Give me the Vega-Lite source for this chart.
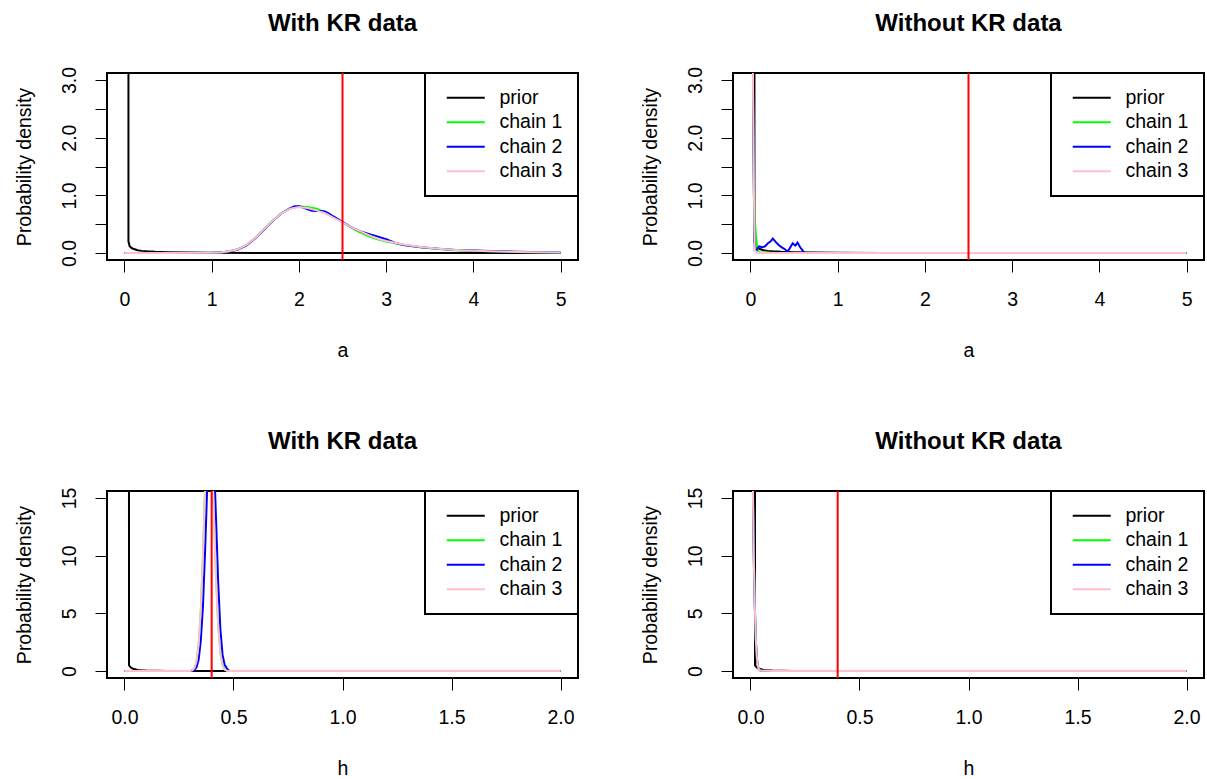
{
  "$schema": "https://vega.github.io/schema/vega-lite/v6.json",
  "background": "white",
  "padding": {"left": 13, "top": 11, "right": 0, "bottom": 0},
  "config": {
    "font": "Liberation Sans",
    "view": {"stroke": "black", "strokeWidth": 2},
    "axis": {"domain": false, "grid": false, "ticks": true, "tickColor": "black", "tickSize": 12, "tickWidth": 1, "labelFont": "Liberation Sans", "labelFontSize": 19.5, "labelColor": "black", "titleFont": "Liberation Sans", "titleFontSize": 19.5, "titleFontWeight": "normal", "titleColor": "black"},
    "axisX": {"labelPadding": 18, "titlePadding": 33, "labelAngle": 0, "labelBaseline": "top"},
    "axisY": {"labelPadding": 35, "titlePadding": 25},
    "title": {"fontSize": 24, "fontWeight": "bold", "font": "Liberation Sans", "color": "black", "anchor": "middle", "baseline": "alphabetic"},
    "legend": {"orient": "top-right", "offset": 0, "fillColor": "white", "strokeColor": "black", "strokeWidth": 2, "padding": 15, "symbolType": "M-0.5,0L5.833,0", "symbolSize": 144, "symbolStrokeWidth": 2, "labelFontSize": 19.5, "labelFont": "Liberation Sans", "labelColor": "black", "labelOffset": 40, "rowPadding": 3.5}
  },
  "datasets": {
    "prior_a": [
      {"series":"prior","x":0.045,"y":40},{"series":"prior","x":0.046,"y":0.2},{"series":"prior","x":0.06,"y":0.12},{"series":"prior","x":0.08,"y":0.09},{"series":"prior","x":0.1,"y":0.075},{"series":"prior","x":0.15,"y":0.05},{"series":"prior","x":0.2,"y":0.038},{"series":"prior","x":0.26,"y":0.03},{"series":"prior","x":0.35,"y":0.022},{"series":"prior","x":0.5,"y":0.015},{"series":"prior","x":0.75,"y":0.009},{"series":"prior","x":1,"y":0.005},{"series":"prior","x":1.5,"y":0.003},{"series":"prior","x":2,"y":0.0015},{"series":"prior","x":3,"y":0.0008},{"series":"prior","x":4,"y":0.0004},{"series":"prior","x":5,"y":0}
    ],
    "prior_h": [
      {"series":"prior","x":0.02,"y":80},{"series":"prior","x":0.021,"y":0.5},{"series":"prior","x":0.025,"y":0.4},{"series":"prior","x":0.03,"y":0.3},{"series":"prior","x":0.04,"y":0.2},{"series":"prior","x":0.06,"y":0.1},{"series":"prior","x":0.08,"y":0.06},{"series":"prior","x":0.1,"y":0.04},{"series":"prior","x":0.15,"y":0.02},{"series":"prior","x":0.2,"y":0.012},{"series":"prior","x":0.3,"y":0.006},{"series":"prior","x":0.5,"y":0.003},{"series":"prior","x":1,"y":0.001},{"series":"prior","x":2,"y":0}
    ],
    "a_kr": [
      {"series":"chain 1","x":0,"y":0},{"series":"chain 1","x":0.5,"y":0.001},{"series":"chain 1","x":1,"y":0.004},{"series":"chain 1","x":1.1,"y":0.01},{"series":"chain 1","x":1.2,"y":0.03},{"series":"chain 1","x":1.3,"y":0.065},{"series":"chain 1","x":1.4,"y":0.14},{"series":"chain 1","x":1.5,"y":0.26},{"series":"chain 1","x":1.6,"y":0.41},{"series":"chain 1","x":1.7,"y":0.56},{"series":"chain 1","x":1.8,"y":0.69},{"series":"chain 1","x":1.9,"y":0.77},{"series":"chain 1","x":2,"y":0.81},{"series":"chain 1","x":2.1,"y":0.8},{"series":"chain 1","x":2.2,"y":0.77},{"series":"chain 1","x":2.3,"y":0.71},{"series":"chain 1","x":2.4,"y":0.63},{"series":"chain 1","x":2.5,"y":0.53},{"series":"chain 1","x":2.6,"y":0.44},{"series":"chain 1","x":2.7,"y":0.36},{"series":"chain 1","x":2.8,"y":0.29},{"series":"chain 1","x":2.9,"y":0.24},{"series":"chain 1","x":3,"y":0.2},{"series":"chain 1","x":3.2,"y":0.14},{"series":"chain 1","x":3.4,"y":0.1},{"series":"chain 1","x":3.6,"y":0.07},{"series":"chain 1","x":3.8,"y":0.05},{"series":"chain 1","x":4,"y":0.04},{"series":"chain 1","x":4.5,"y":0.02},{"series":"chain 1","x":5,"y":0.012},
      {"series":"chain 2","x":0,"y":0},{"series":"chain 2","x":0.5,"y":0.001},{"series":"chain 2","x":1,"y":0.004},{"series":"chain 2","x":1.1,"y":0.01},{"series":"chain 2","x":1.2,"y":0.028},{"series":"chain 2","x":1.3,"y":0.062},{"series":"chain 2","x":1.4,"y":0.135},{"series":"chain 2","x":1.5,"y":0.255},{"series":"chain 2","x":1.6,"y":0.405},{"series":"chain 2","x":1.7,"y":0.555},{"series":"chain 2","x":1.8,"y":0.69},{"series":"chain 2","x":1.9,"y":0.78},{"series":"chain 2","x":1.95,"y":0.81},{"series":"chain 2","x":2,"y":0.81},{"series":"chain 2","x":2.05,"y":0.79},{"series":"chain 2","x":2.1,"y":0.76},{"series":"chain 2","x":2.15,"y":0.735},{"series":"chain 2","x":2.2,"y":0.73},{"series":"chain 2","x":2.25,"y":0.73},{"series":"chain 2","x":2.3,"y":0.72},{"series":"chain 2","x":2.35,"y":0.68},{"series":"chain 2","x":2.4,"y":0.63},{"series":"chain 2","x":2.5,"y":0.54},{"series":"chain 2","x":2.6,"y":0.45},{"series":"chain 2","x":2.7,"y":0.38},{"series":"chain 2","x":2.8,"y":0.33},{"series":"chain 2","x":2.9,"y":0.29},{"series":"chain 2","x":3,"y":0.24},{"series":"chain 2","x":3.1,"y":0.18},{"series":"chain 2","x":3.2,"y":0.14},{"series":"chain 2","x":3.4,"y":0.1},{"series":"chain 2","x":3.6,"y":0.075},{"series":"chain 2","x":3.8,"y":0.055},{"series":"chain 2","x":4,"y":0.045},{"series":"chain 2","x":4.5,"y":0.025},{"series":"chain 2","x":5,"y":0.01},
      {"series":"chain 3","x":0,"y":0},{"series":"chain 3","x":0.5,"y":0.001},{"series":"chain 3","x":1,"y":0.004},{"series":"chain 3","x":1.1,"y":0.01},{"series":"chain 3","x":1.2,"y":0.03},{"series":"chain 3","x":1.3,"y":0.065},{"series":"chain 3","x":1.4,"y":0.14},{"series":"chain 3","x":1.5,"y":0.26},{"series":"chain 3","x":1.6,"y":0.41},{"series":"chain 3","x":1.7,"y":0.56},{"series":"chain 3","x":1.8,"y":0.69},{"series":"chain 3","x":1.9,"y":0.77},{"series":"chain 3","x":2,"y":0.8},{"series":"chain 3","x":2.1,"y":0.78},{"series":"chain 3","x":2.2,"y":0.74},{"series":"chain 3","x":2.3,"y":0.69},{"series":"chain 3","x":2.4,"y":0.61},{"series":"chain 3","x":2.5,"y":0.53},{"series":"chain 3","x":2.6,"y":0.45},{"series":"chain 3","x":2.7,"y":0.38},{"series":"chain 3","x":2.8,"y":0.31},{"series":"chain 3","x":2.9,"y":0.25},{"series":"chain 3","x":3,"y":0.21},{"series":"chain 3","x":3.2,"y":0.15},{"series":"chain 3","x":3.4,"y":0.105},{"series":"chain 3","x":3.6,"y":0.075},{"series":"chain 3","x":3.8,"y":0.055},{"series":"chain 3","x":4,"y":0.04},{"series":"chain 3","x":4.5,"y":0.02},{"series":"chain 3","x":5,"y":0.01}
    ],
    "a_nokr": [
      {"series":"chain 1","x":0,"y":25},{"series":"chain 1","x":0.015,"y":11},{"series":"chain 1","x":0.03,"y":2.6},{"series":"chain 1","x":0.04,"y":1.0},{"series":"chain 1","x":0.05,"y":0.62},{"series":"chain 1","x":0.06,"y":0.35},{"series":"chain 1","x":0.075,"y":0.12},{"series":"chain 1","x":0.09,"y":0.02},{"series":"chain 1","x":0.1,"y":0.01},{"series":"chain 1","x":0.3,"y":0.003},{"series":"chain 1","x":1,"y":0.001},{"series":"chain 1","x":5,"y":0},
      {"series":"chain 2","x":0,"y":25},{"series":"chain 2","x":0.015,"y":10},{"series":"chain 2","x":0.03,"y":2.5},{"series":"chain 2","x":0.04,"y":1.0},{"series":"chain 2","x":0.045,"y":0.3},{"series":"chain 2","x":0.05,"y":0.05},{"series":"chain 2","x":0.065,"y":0.04},{"series":"chain 2","x":0.08,"y":0.08},{"series":"chain 2","x":0.1,"y":0.115},{"series":"chain 2","x":0.14,"y":0.1},{"series":"chain 2","x":0.17,"y":0.12},{"series":"chain 2","x":0.2,"y":0.17},{"series":"chain 2","x":0.23,"y":0.2},{"series":"chain 2","x":0.256,"y":0.25},{"series":"chain 2","x":0.275,"y":0.22},{"series":"chain 2","x":0.294,"y":0.185},{"series":"chain 2","x":0.33,"y":0.13},{"series":"chain 2","x":0.36,"y":0.1},{"series":"chain 2","x":0.39,"y":0.07},{"series":"chain 2","x":0.427,"y":0.03},{"series":"chain 2","x":0.45,"y":0.08},{"series":"chain 2","x":0.484,"y":0.17},{"series":"chain 2","x":0.5,"y":0.15},{"series":"chain 2","x":0.515,"y":0.13},{"series":"chain 2","x":0.54,"y":0.18},{"series":"chain 2","x":0.57,"y":0.1},{"series":"chain 2","x":0.606,"y":0.03},{"series":"chain 2","x":0.62,"y":0.005},{"series":"chain 2","x":1,"y":0.001},{"series":"chain 2","x":5,"y":0},
      {"series":"chain 3","x":0,"y":30},{"series":"chain 3","x":0.015,"y":12},{"series":"chain 3","x":0.03,"y":2.8},{"series":"chain 3","x":0.04,"y":1.1},{"series":"chain 3","x":0.045,"y":0.4},{"series":"chain 3","x":0.05,"y":0.05},{"series":"chain 3","x":0.07,"y":0.01},{"series":"chain 3","x":0.2,"y":0.003},{"series":"chain 3","x":1,"y":0.001},{"series":"chain 3","x":5,"y":0}
    ],
    "h_kr": [
      {"series":"chain 1","x":0,"y":0},{"series":"chain 1","x":0.25,"y":0},{"series":"chain 1","x":0.3,"y":0.01},{"series":"chain 1","x":0.31,"y":0.05},{"series":"chain 1","x":0.32,"y":0.21},{"series":"chain 1","x":0.33,"y":0.74},{"series":"chain 1","x":0.34,"y":2.15},{"series":"chain 1","x":0.35,"y":5.1},{"series":"chain 1","x":0.36,"y":9.9},{"series":"chain 1","x":0.37,"y":15.8},{"series":"chain 1","x":0.38,"y":20.6},{"series":"chain 1","x":0.39,"y":22},{"series":"chain 1","x":0.4,"y":19.4},{"series":"chain 1","x":0.41,"y":14},{"series":"chain 1","x":0.42,"y":8.3},{"series":"chain 1","x":0.43,"y":4.05},{"series":"chain 1","x":0.44,"y":1.6},{"series":"chain 1","x":0.45,"y":0.53},{"series":"chain 1","x":0.46,"y":0.14},{"series":"chain 1","x":0.47,"y":0.03},{"series":"chain 1","x":0.48,"y":0},{"series":"chain 1","x":1,"y":0},{"series":"chain 1","x":2,"y":0},
      {"series":"chain 2","x":0,"y":0},{"series":"chain 2","x":0.25,"y":0},{"series":"chain 2","x":0.3,"y":0},{"series":"chain 2","x":0.31,"y":0.02},{"series":"chain 2","x":0.32,"y":0.08},{"series":"chain 2","x":0.33,"y":0.3},{"series":"chain 2","x":0.34,"y":0.96},{"series":"chain 2","x":0.35,"y":2.6},{"series":"chain 2","x":0.36,"y":5.6},{"series":"chain 2","x":0.37,"y":10.5},{"series":"chain 2","x":0.38,"y":16.2},{"series":"chain 2","x":0.39,"y":20.6},{"series":"chain 2","x":0.4,"y":21.7},{"series":"chain 2","x":0.41,"y":18.7},{"series":"chain 2","x":0.42,"y":13.2},{"series":"chain 2","x":0.43,"y":7.6},{"series":"chain 2","x":0.44,"y":3.6},{"series":"chain 2","x":0.45,"y":1.4},{"series":"chain 2","x":0.46,"y":0.5},{"series":"chain 2","x":0.465,"y":0.4},{"series":"chain 2","x":0.47,"y":0.2},{"series":"chain 2","x":0.48,"y":0.02},{"series":"chain 2","x":0.49,"y":0},{"series":"chain 2","x":1,"y":0},{"series":"chain 2","x":2,"y":0},
      {"series":"chain 3","x":0,"y":0},{"series":"chain 3","x":0.25,"y":0},{"series":"chain 3","x":0.3,"y":0.01},{"series":"chain 3","x":0.31,"y":0.054},{"series":"chain 3","x":0.32,"y":0.23},{"series":"chain 3","x":0.33,"y":0.79},{"series":"chain 3","x":0.34,"y":2.25},{"series":"chain 3","x":0.35,"y":5.27},{"series":"chain 3","x":0.36,"y":10.1},{"series":"chain 3","x":0.37,"y":16},{"series":"chain 3","x":0.38,"y":20.7},{"series":"chain 3","x":0.39,"y":21.9},{"series":"chain 3","x":0.4,"y":19.1},{"series":"chain 3","x":0.41,"y":13.6},{"series":"chain 3","x":0.42,"y":8},{"series":"chain 3","x":0.43,"y":3.86},{"series":"chain 3","x":0.44,"y":1.52},{"series":"chain 3","x":0.45,"y":0.49},{"series":"chain 3","x":0.46,"y":0.13},{"series":"chain 3","x":0.47,"y":0.03},{"series":"chain 3","x":0.48,"y":0},{"series":"chain 3","x":1,"y":0},{"series":"chain 3","x":2,"y":0}
    ],
    "h_nokr": [
      {"series":"chain 1","x":0,"y":60},{"series":"chain 1","x":0.008,"y":26},{"series":"chain 1","x":0.012,"y":15},{"series":"chain 1","x":0.016,"y":9.5},{"series":"chain 1","x":0.02,"y":5.8},{"series":"chain 1","x":0.025,"y":2.6},{"series":"chain 1","x":0.03,"y":1.1},{"series":"chain 1","x":0.035,"y":0.4},{"series":"chain 1","x":0.04,"y":0.1},{"series":"chain 1","x":0.05,"y":0.02},{"series":"chain 1","x":0.1,"y":0.005},{"series":"chain 1","x":0.5,"y":0.001},{"series":"chain 1","x":2,"y":0},
      {"series":"chain 2","x":0,"y":60},{"series":"chain 2","x":0.008,"y":25},{"series":"chain 2","x":0.012,"y":14},{"series":"chain 2","x":0.016,"y":9},{"series":"chain 2","x":0.02,"y":5.5},{"series":"chain 2","x":0.025,"y":2.5},{"series":"chain 2","x":0.03,"y":1},{"series":"chain 2","x":0.035,"y":0.35},{"series":"chain 2","x":0.04,"y":0.1},{"series":"chain 2","x":0.05,"y":0.02},{"series":"chain 2","x":0.1,"y":0.005},{"series":"chain 2","x":0.5,"y":0.001},{"series":"chain 2","x":2,"y":0},
      {"series":"chain 3","x":0,"y":60},{"series":"chain 3","x":0.008,"y":25},{"series":"chain 3","x":0.012,"y":14.5},{"series":"chain 3","x":0.016,"y":9.2},{"series":"chain 3","x":0.02,"y":5.6},{"series":"chain 3","x":0.025,"y":2.6},{"series":"chain 3","x":0.03,"y":1.05},{"series":"chain 3","x":0.035,"y":0.38},{"series":"chain 3","x":0.04,"y":0.1},{"series":"chain 3","x":0.05,"y":0.02},{"series":"chain 3","x":0.1,"y":0.005},{"series":"chain 3","x":0.5,"y":0.001},{"series":"chain 3","x":2,"y":0}
    ]
  },
  "columns": 2,
  "spacing": {"row": 231, "column": 155},
  "bounds": "flush",
  "resolve": {"scale": {"color": "independent", "x": "independent", "y": "independent"}, "legend": {"color": "independent"}},
  "concat": [
    {
      "width": 471, "height": 187, "title": {"text": "With KR data", "offset": 30},
      "encoding": {
        "x": {"field": "x", "type": "quantitative", "scale": {"domain": [-0.2, 5.2], "nice": false, "zero": false}, "axis": {"values": [0,1,2,3,4,5], "format": "d", "title": "a"}},
        "y": {"field": "y", "type": "quantitative", "scale": {"domain": [-0.12, 3.12], "nice": false, "zero": false}, "axis": {"values": [0,0.5,1,1.5,2,2.5,3], "format": ".1f", "labelExpr": "datum.value % 1 === 0 ? datum.label : ''", "title": "Probability density", "labelAngle": -90, "labelAlign": "center", "labelBaseline": "top"}},
        "color": {"field": "series", "type": "nominal", "scale": {"domain": ["prior","chain 1","chain 2","chain 3"], "range": ["#000000","#00FF00","#0000FF","#FFC0CB"]}, "legend": {"title": null}}
      },
      "layer": [
        {"data": {"name": "prior_a"}, "mark": {"type": "line", "clip": true, "strokeWidth": 2}},
        {"data": {"name": "a_kr"}, "mark": {"type": "line", "clip": true, "strokeWidth": 2}},
        {"data": {"values": [{"x": 2.5}]}, "mark": {"type": "rule", "color": "#FF0000", "strokeWidth": 2, "clip": true}, "encoding": {"x": {"field": "x", "type": "quantitative"}, "y": null, "color": null}}
      ]
    },
    {
      "width": 471, "height": 187, "title": {"text": "Without KR data", "offset": 30},
      "encoding": {
        "x": {"field": "x", "type": "quantitative", "scale": {"domain": [-0.2, 5.2], "nice": false, "zero": false}, "axis": {"values": [0,1,2,3,4,5], "format": "d", "title": "a"}},
        "y": {"field": "y", "type": "quantitative", "scale": {"domain": [-0.12, 3.12], "nice": false, "zero": false}, "axis": {"values": [0,0.5,1,1.5,2,2.5,3], "format": ".1f", "labelExpr": "datum.value % 1 === 0 ? datum.label : ''", "title": "Probability density", "labelAngle": -90, "labelAlign": "center", "labelBaseline": "top"}},
        "color": {"field": "series", "type": "nominal", "scale": {"domain": ["prior","chain 1","chain 2","chain 3"], "range": ["#000000","#00FF00","#0000FF","#FFC0CB"]}, "legend": {"title": null}}
      },
      "layer": [
        {"data": {"name": "prior_a"}, "mark": {"type": "line", "clip": true, "strokeWidth": 2}},
        {"data": {"name": "a_nokr"}, "mark": {"type": "line", "clip": true, "strokeWidth": 2}},
        {"data": {"values": [{"x": 2.5}]}, "mark": {"type": "rule", "color": "#FF0000", "strokeWidth": 2, "clip": true}, "encoding": {"x": {"field": "x", "type": "quantitative"}, "y": null, "color": null}}
      ]
    },
    {
      "width": 471, "height": 187, "title": {"text": "With KR data", "offset": 33},
      "encoding": {
        "x": {"field": "x", "type": "quantitative", "scale": {"domain": [-0.08, 2.08], "nice": false, "zero": false}, "axis": {"values": [0,0.5,1,1.5,2], "format": ".1f", "title": "h"}},
        "y": {"field": "y", "type": "quantitative", "scale": {"domain": [-0.6, 15.6], "nice": false, "zero": false}, "axis": {"values": [0,5,10,15], "format": "d", "title": "Probability density", "labelAngle": -90, "labelAlign": "center", "labelBaseline": "top"}},
        "color": {"field": "series", "type": "nominal", "scale": {"domain": ["prior","chain 1","chain 2","chain 3"], "range": ["#000000","#00FF00","#0000FF","#FFC0CB"]}, "legend": {"title": null}}
      },
      "layer": [
        {"data": {"name": "prior_h"}, "mark": {"type": "line", "clip": true, "strokeWidth": 2}},
        {"data": {"name": "h_kr"}, "mark": {"type": "line", "clip": true, "strokeWidth": 2}},
        {"data": {"values": [{"x": 0.4}]}, "mark": {"type": "rule", "color": "#FF0000", "strokeWidth": 2, "clip": true}, "encoding": {"x": {"field": "x", "type": "quantitative"}, "y": null, "color": null}}
      ]
    },
    {
      "width": 471, "height": 187, "title": {"text": "Without KR data", "offset": 33},
      "encoding": {
        "x": {"field": "x", "type": "quantitative", "scale": {"domain": [-0.08, 2.08], "nice": false, "zero": false}, "axis": {"values": [0,0.5,1,1.5,2], "format": ".1f", "title": "h"}},
        "y": {"field": "y", "type": "quantitative", "scale": {"domain": [-0.6, 15.6], "nice": false, "zero": false}, "axis": {"values": [0,5,10,15], "format": "d", "title": "Probability density", "labelAngle": -90, "labelAlign": "center", "labelBaseline": "top"}},
        "color": {"field": "series", "type": "nominal", "scale": {"domain": ["prior","chain 1","chain 2","chain 3"], "range": ["#000000","#00FF00","#0000FF","#FFC0CB"]}, "legend": {"title": null}}
      },
      "layer": [
        {"data": {"name": "prior_h"}, "mark": {"type": "line", "clip": true, "strokeWidth": 2}},
        {"data": {"name": "h_nokr"}, "mark": {"type": "line", "clip": true, "strokeWidth": 2}},
        {"data": {"values": [{"x": 0.4}]}, "mark": {"type": "rule", "color": "#FF0000", "strokeWidth": 2, "clip": true}, "encoding": {"x": {"field": "x", "type": "quantitative"}, "y": null, "color": null}}
      ]
    }
  ]
}
